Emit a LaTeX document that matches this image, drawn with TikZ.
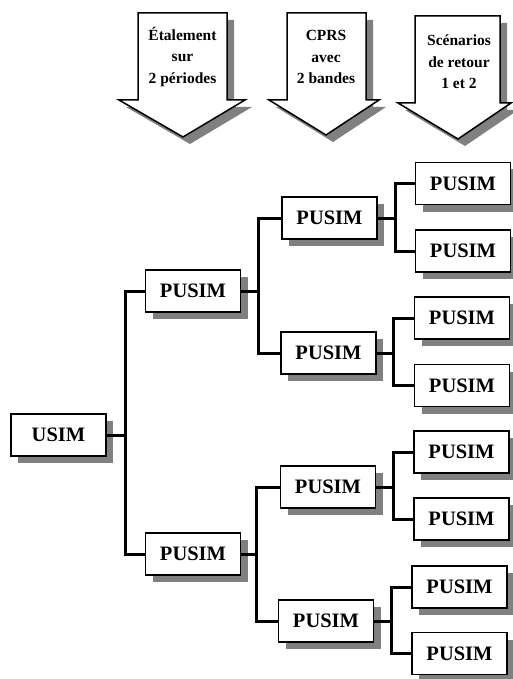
\documentclass[tikz,border=0pt]{standalone}
\usepackage{fontspec}
\setmainfont{Liberation Serif}
\usetikzlibrary{shadows}
\begin{document}
\begin{tikzpicture}[x=1pt,y=-1pt,
  shad/.style={drop shadow={shadow xshift=7pt,shadow yshift=-7pt,fill=gray,opacity=1}},
  box/.style={draw=black,fill=white,line width=1.5pt,minimum width=95pt,minimum height=42pt,inner sep=0pt,shad,
    font=\fontsize{20.5}{22}\selectfont\bfseries},
  conn/.style={line width=3pt,line join=miter,line cap=butt},
  arrowshape/.style={draw=black,fill=white,line width=1.5pt,line join=miter,shad},
  arrowtext/.style={align=center,inner sep=0pt,font=\fontsize{15.5}{21.5}\selectfont\bfseries}]
\useasboundingbox (0,0) rectangle (512,679);
% top arrows
\draw[arrowshape] (138,13) -- (227,13) -- (227,100) -- (245,100) -- (183,137) -- (119,100) -- (138,100) -- cycle;
\draw[arrowshape] (287,13) -- (366,13) -- (366,100) -- (379,100) -- (326,135) -- (269,100) -- (287,100) -- cycle;
\draw[arrowshape] (415,16) -- (500,16) -- (500,103) -- (511,103) -- (458,139) -- (398,103) -- (415,103) -- cycle;
\node[arrowtext] (t1) at (182.5,57) {Étalement\\sur\\2 périodes};
\node[arrowtext] (t2) at (326,57) {CPRS\\avec\\2 bandes};
\node[arrowtext] (t3) at (459,62) {Scénarios\\de retour\\1 et 2};
% boxes
\node[box] (usim) at (58.5,435) {USIM};
\node[box] (p1) at (193,291) {PUSIM};
\node[box] (p2) at (193,554) {PUSIM};
\node[box] (p11) at (329.5,218) {PUSIM};
\node[box] (p12) at (328.5,353) {PUSIM};
\node[box] (p21) at (328,487) {PUSIM};
\node[box] (p22) at (326,621) {PUSIM};
\node[box] (p111) at (463,183.5) {PUSIM};
\node[box] (p112) at (463,251) {PUSIM};
\node[box] (p121) at (462,318) {PUSIM};
\node[box] (p122) at (462,385.5) {PUSIM};
\node[box] (p211) at (461.5,452) {PUSIM};
\node[box] (p212) at (461.5,519) {PUSIM};
\node[box] (p221) at (459.5,587) {PUSIM};
\node[box] (p222) at (459.5,653.5) {PUSIM};
% connectors
\draw[conn] (p1.west) -- ++(-19.5,0) coordinate (j0) |- (p2.west);
\draw[conn] (usim.east) -- (usim.east -| j0);
\draw[conn] (p11.west) -- ++(-23,0) coordinate (j1) |- (p12.west);
\draw[conn] (p1.east) -- (p1.east -| j1);
\draw[conn] (p21.west) -- ++(-23,0) coordinate (j2) |- (p22.west);
\draw[conn] (p2.east) -- (p2.east -| j2);
\draw[conn] (p111.west) -- ++(-19.5,0) coordinate (j11) |- (p112.west);
\draw[conn] (p11.east) -- (p11.east -| j11);
\draw[conn] (p121.west) -- ++(-20.5,0) coordinate (j12) |- (p122.west);
\draw[conn] (p12.east) -- (p12.east -| j12);
\draw[conn] (p211.west) -- ++(-20,0) coordinate (j21) |- (p212.west);
\draw[conn] (p21.east) -- (p21.east -| j21);
\draw[conn] (p221.west) -- ++(-20,0) coordinate (j22) |- (p222.west);
\draw[conn] (p22.east) -- (p22.east -| j22);
\end{tikzpicture}
\end{document}
